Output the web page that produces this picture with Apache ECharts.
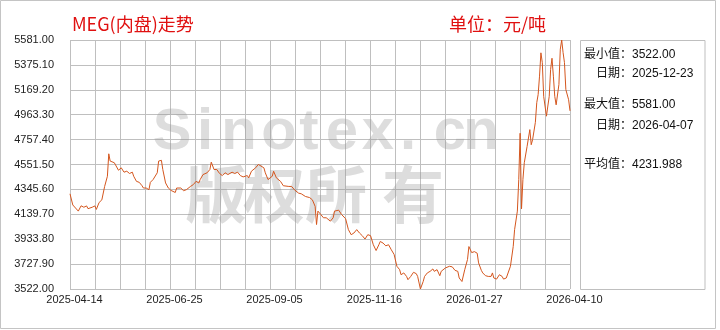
<!DOCTYPE html>
<html><head><meta charset="utf-8">
<script src="https://cdn.jsdelivr.net/npm/echarts@6/dist/echarts.min.js"></script>
<style>html,body{margin:0;padding:0;background:#fff}#c{width:720px;height:330px}</style>
</head><body><div id="c"></div>
<script>
const dates = ['2025-04-14','2025-04-16','2025-04-20','2025-04-22','2025-04-24','2025-04-26','2025-04-27','2025-04-30','2025-05-02','2025-05-03',
'2025-05-05','2025-05-07','2025-05-09','2025-05-11','2025-05-12','2025-05-13','2025-05-14','2025-05-16','2025-05-19','2025-05-21',
'2025-05-23','2025-05-25','2025-05-27','2025-05-29','2025-05-30','2025-06-01','2025-06-03','2025-06-05','2025-06-06','2025-06-08',
'2025-06-10','2025-06-11','2025-06-13','2025-06-14','2025-06-16','2025-06-17','2025-06-19','2025-06-20','2025-06-22','2025-06-24',
'2025-06-26','2025-06-29','2025-06-30','2025-07-03','2025-07-05','2025-07-07','2025-07-10','2025-07-12','2025-07-14','2025-07-16',
'2025-07-17','2025-07-19','2025-07-22','2025-07-24','2025-07-25','2025-07-27','2025-07-29','2025-07-31','2025-08-02','2025-08-04',
'2025-08-06','2025-08-09','2025-08-11','2025-08-13','2025-08-15','2025-08-17','2025-08-20','2025-08-21','2025-08-23','2025-08-26',
'2025-08-28','2025-08-29','2025-09-01','2025-09-02','2025-09-04','2025-09-07','2025-09-08','2025-09-10','2025-09-13','2025-09-15',
'2025-09-19','2025-09-21','2025-09-23','2025-09-26','2025-09-28','2025-09-29','2025-10-01','2025-10-04','2025-10-06','2025-10-08',
'2025-10-09','2025-10-10','2025-10-12','2025-10-14','2025-10-16','2025-10-19','2025-10-21','2025-10-22','2025-10-25','2025-10-27',
'2025-10-30','2025-11-01','2025-11-03','2025-11-05','2025-11-07','2025-11-09','2025-11-11','2025-11-13','2025-11-15','2025-11-17',
'2025-11-19','2025-11-21','2025-11-23','2025-11-24','2025-11-26','2025-11-28','2025-11-30','2025-12-02','2025-12-04','2025-12-05',
'2025-12-06','2025-12-08','2025-12-09','2025-12-11','2025-12-13','2025-12-14','2025-12-16','2025-12-18','2025-12-20','2025-12-21',
'2025-12-23','2025-12-25','2025-12-26','2025-12-28','2025-12-30','2026-01-01','2026-01-02','2026-01-04','2026-01-06','2026-01-07',
'2026-01-10','2026-01-11','2026-01-13','2026-01-15','2026-01-17','2026-01-19','2026-01-20','2026-01-22','2026-01-23','2026-01-24',
'2026-01-26','2026-01-27','2026-01-29','2026-01-31','2026-02-02','2026-02-03','2026-02-05','2026-02-06','2026-02-08','2026-02-10',
'2026-02-12','2026-02-13','2026-02-14','2026-02-16','2026-02-18','2026-02-20','2026-02-21','2026-02-23','2026-02-24','2026-02-26',
'2026-02-28','2026-03-01','2026-03-03','2026-03-04','2026-03-05','2026-03-06','2026-03-07','2026-03-08','2026-03-10','2026-03-11',
'2026-03-12','2026-03-13','2026-03-14','2026-03-16','2026-03-17','2026-03-18','2026-03-19','2026-03-20','2026-03-21','2026-03-22',
'2026-03-24','2026-03-25','2026-03-26','2026-03-27','2026-03-28','2026-03-29','2026-03-30','2026-03-31','2026-04-02','2026-04-03',
'2026-04-04','2026-04-05','2026-04-06','2026-04-07','2026-04-09','2026-04-10'];
const prices = [4309,4217,4166,4210,4198,4209,4186,4198,4209,4180,
4237,4259,4370,4454,4640,4580,4566,4566,4504,4524,
4488,4496,4477,4488,4454,4412,4404,4376,4357,4357,
4343,4404,4427,4412,4483,4580,4586,4510,4399,4357,
4337,4320,4357,4357,4335,4343,4370,4385,4412,4399,
4427,4468,4483,4510,4571,4510,4510,4477,4460,4483,
4468,4488,4477,4488,4460,4449,4460,4441,4496,4524,
4552,4552,4524,4483,4427,4454,4496,4441,4412,4376,
4370,4370,4343,4315,4309,4315,4287,4278,4259,4205,
4055,4166,4139,4111,4111,4083,4111,4166,4174,4139,
4103,4013,3971,3985,4013,3985,3963,3935,3971,3963,
3888,3840,3888,3915,3902,3879,3888,3846,3808,3799,
3710,3682,3640,3655,3626,3599,3626,3660,3649,3626,
3522,3584,3626,3655,3668,3688,3668,3682,3632,3668,
3696,3688,3710,3705,3676,3668,3613,3584,3571,3682,
3766,3873,3823,3831,3818,3738,3676,3655,3632,3626,
3626,3655,3613,3604,3640,3626,3604,3613,3599,3710,
3873,4013,4166,4427,4810,4185,4427,4566,4700,4690,
4840,4715,4757,4900,5063,5130,5282,5475,5394,5115,
4951,5035,5115,5338,5430,5282,5115,5045,5213,5505,
5581,5478,5394,5171,5087,4995];
const yTickLabels = ['3522.00','3727.90','3933.80','4139.70','4345.60','4551.50','4757.40','4963.30','5169.20','5375.10','5581.00'];
const xTickLabels = ['2025-04-14','2025-06-25','2025-09-05','2025-11-16','2026-01-27','2026-04-10'];
const yMin = 3522, yMax = 5581;
const xStart = '2025-04-14', xEnd = '2026-04-10';
const titleText = 'MEG(内盘)走势';
const unitText = '单位：元/吨';
const statLines = ['最小值：3522.00','日期：2025-12-23','最大值：5581.00','日期：2026-04-07','平均值：4231.988'];
const watermarkLatin = 'Sinotex.cn';
const watermarkCJK = '版权所有';

const chart = echarts.init(document.getElementById('c'), null, {renderer:'canvas'});
const gridColor = '#bfbfbf';
const labelFont = "'Liberation Sans', Arial, 'Noto Sans CJK SC', sans-serif";
const cjkFont = "'Noto Sans CJK SC', sans-serif";

const graphics = [];
graphics.push({type:'rect', z:0, shape:{x:0.5,y:0.5,width:715,height:328}, style:{fill:'none', stroke:'#c4c4c4', lineWidth:1}, silent:true});
const wmX = [172,205,239,279,309,342,378,408,450,481];
watermarkLatin.split('').forEach((ch,i)=>{
  graphics.push({type:'text', z:1, x:wmX[i], y:133, silent:true,
    style:{text:ch, fill:'rgba(150,150,150,0.32)', font:"bold 58px 'Liberation Sans', Arial, sans-serif", textAlign:'center', textVerticalAlign:'middle'}});
});
const wcX = [216,274,336,413];
watermarkCJK.split('').forEach((ch,i)=>{
  graphics.push({type:'text', z:1, x:wcX[i], y:194, silent:true,
    style:{text:ch, fill:'rgba(150,150,150,0.32)', font:"bold 62px 'Noto Sans CJK SC', sans-serif", textAlign:'center', textVerticalAlign:'middle'}});
});
graphics.push({type:'text', z:5, x:72, y:24, silent:true, style:{text:titleText, fill:'#e01010', font:"18px " + cjkFont, textAlign:'left', textVerticalAlign:'middle'}});
graphics.push({type:'text', z:5, x:449, y:24, silent:true, style:{text:unitText, fill:'#e01010', font:"18px " + cjkFont, textAlign:'left', textVerticalAlign:'middle'}});
graphics.push({type:'rect', z:5, shape:{x:580.5,y:40.5,width:124.5,height:249}, style:{fill:'#fff', stroke:gridColor, lineWidth:1}, silent:true});
const statPos = [[584,55],[596,74],[584,105],[596,126],[584,165]];
statLines.forEach((t,i)=>{
  graphics.push({type:'text', z:6, x:statPos[i][0], y:statPos[i][1], silent:true,
    style:{text:t, fill:'#111', font:"12px " + labelFont, textAlign:'left', textVerticalAlign:'middle'}});
});

const option = {
  animation:false,
  backgroundColor:'#fff',
  grid:{left:70, top:40, width:500, height:249, show:false},
  xAxis:[
    {type:'value', min:0, max:20, interval:1, gridIndex:0,
     axisLine:{show:false}, axisTick:{show:false},
     splitLine:{show:true, lineStyle:{color:gridColor, width:1}},
     axisLabel:{show:true, margin:5, color:'#222', fontSize:11, fontFamily:labelFont, padding:[0,0,0,9],
       formatter:(v)=> (v % 4 === 0 ? xTickLabels[v/4] : '')}},
    {type:'time', min:xStart, max:xEnd, gridIndex:0, show:false}
  ],
  yAxis:[
    {type:'value', min:0, max:10, interval:1, gridIndex:0,
     axisLine:{show:false}, axisTick:{show:false},
     splitLine:{show:true, lineStyle:{color:gridColor, width:1}},
     axisLabel:{show:true, margin:16, color:'#222', fontSize:11, fontFamily:labelFont, padding:[0,0,8,0],
       formatter:(v)=> yTickLabels[v]}},
    {type:'value', min:yMin, max:yMax, gridIndex:0, show:false}
  ],
  series:[{
    type:'line', xAxisIndex:1, yAxisIndex:1, showSymbol:false, symbol:'none',
    lineStyle:{color:'#d4561e', width:1}, z:3,
    data: dates.map((d,i)=>[d, prices[i]])
  }],
  graphic: graphics
};
chart.setOption(option);
</script>
</body></html>
